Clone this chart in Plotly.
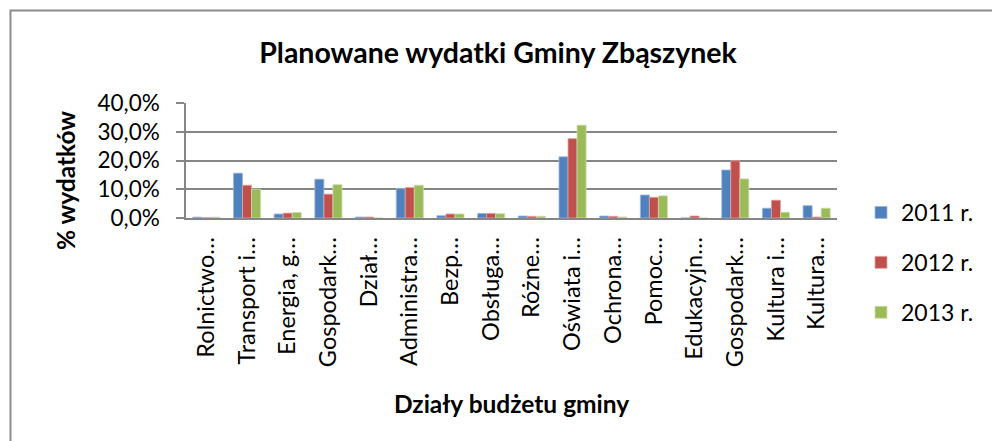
import plotly.graph_objects as go

categories = ["Rolnictwo…", "Transport i…", "Energia, g…", "Gospodark…", "Dział…",
              "Administra…", "Bezp…", "Obsługa…", "Różne…", "Oświata i…",
              "Ochrona…", "Pomoc…", "Edukacyjn…", "Gospodark…", "Kultura i…", "Kultura…"]
y2011 = [0.003, 0.156, 0.014, 0.135, 0.0035, 0.102, 0.008, 0.016, 0.007, 0.213,
         0.007, 0.080, 0.0, 0.167, 0.034, 0.043]
y2012 = [0.001, 0.114, 0.017, 0.083, 0.0035, 0.106, 0.014, 0.016, 0.006, 0.276,
         0.006, 0.072, 0.007, 0.199, 0.062, 0.0035]
y2013 = [0.003, 0.100, 0.019, 0.116, 0.0, 0.114, 0.014, 0.015, 0.006, 0.323,
         0.0035, 0.077, 0.0, 0.136, 0.020, 0.034]
series_names = ["2011 r.", "2012 r.", "2013 r."]
colors = ["#4F81BD", "#C0504D", "#9BBB59"]
edge_colors = ["#9DB9DE", "#E3A3A1", "#CCDDAA"]
yticks = [0, 0.1, 0.2, 0.3, 0.4]

W, H = 992, 441
L, R, T, B = 186, 155, 103, 223
pw, ph = W - L - R, H - T - B

def px_x(px):
    return (px - L) / pw

def px_y(py):
    return (H - B - py) / ph

xpos = list(range(len(categories)))
fig = go.Figure()
for name, vals, c, ec in zip(series_names, [y2011, y2012, y2013], colors, edge_colors):
    fig.add_trace(go.Bar(x=xpos, y=vals, name=name, marker_color=c,
                         marker_line=dict(color=ec, width=0.8), legendgroup=name))

font = "Lato, Carlito, Calibri, sans-serif"
fig.update_layout(
    width=W, height=H, autosize=False,
    margin=dict(l=L, r=R, t=T, b=B, pad=0),
    paper_bgcolor="white", plot_bgcolor="white",
    separators=", ",
    barmode="group", bargap=1/3, bargroupgap=0,
    font=dict(family=font, color="black"),
    title=dict(text="<b>Planowane wydatki Gminy Zbąszynek</b>", x=498/W, xanchor="center",
               y=1 - 53/H, yanchor="middle", font=dict(size=28.5, family=font, color="black")),
    legend=dict(x=px_x(861), y=px_y(191), xanchor="left", yanchor="top",
                font=dict(size=23, family=font), tracegroupgap=17, maxheight=300,
                bgcolor="rgba(0,0,0,0)"),
    xaxis=dict(tickmode="array", tickvals=xpos, ticktext=categories, tickangle=-90,
               range=[-0.5, len(categories) - 0.5], showgrid=False, showline=True,
               linecolor="#868686", linewidth=1.5, ticks="", tickfont=dict(size=23.5, family=font),
               ticklabelstandoff=8),
    yaxis=dict(range=[0, 0.4], tickvals=yticks, tickformat=".1%", showgrid=True,
               gridcolor="#868686", gridwidth=1.5, showline=True, linecolor="#868686",
               linewidth=1.5, ticks="outside", ticklen=8, tickcolor="#868686", tickwidth=1.5,
               tickfont=dict(size=22.5, family=font), zeroline=False, ticklabelstandoff=12),
)

fig.add_annotation(text="<b>% wydatków</b>", textangle=-90, x=px_x(65), y=px_y(181),
                   xref="paper", yref="paper", showarrow=False, xanchor="center", yanchor="middle",
                   font=dict(size=24.5, family=font, color="black"))
fig.add_annotation(text="<b>Działy budżetu gminy</b>", x=px_x(511), y=px_y(403),
                   xref="paper", yref="paper", showarrow=False, xanchor="center", yanchor="middle",
                   font=dict(size=24.5, family=font, color="black"))

fig.add_shape(type="rect", xref="paper", yref="paper",
              x0=px_x(10.5), y0=px_y(460), x1=px_x(1010), y1=px_y(10.5),
              line=dict(color="#8c8c8c", width=2), fillcolor="rgba(0,0,0,0)", layer="below")

fig.write_html("out.html", config={"displayModeBar": False},
               post_script="document.body.style.margin='0';document.body.style.overflow='hidden';")
